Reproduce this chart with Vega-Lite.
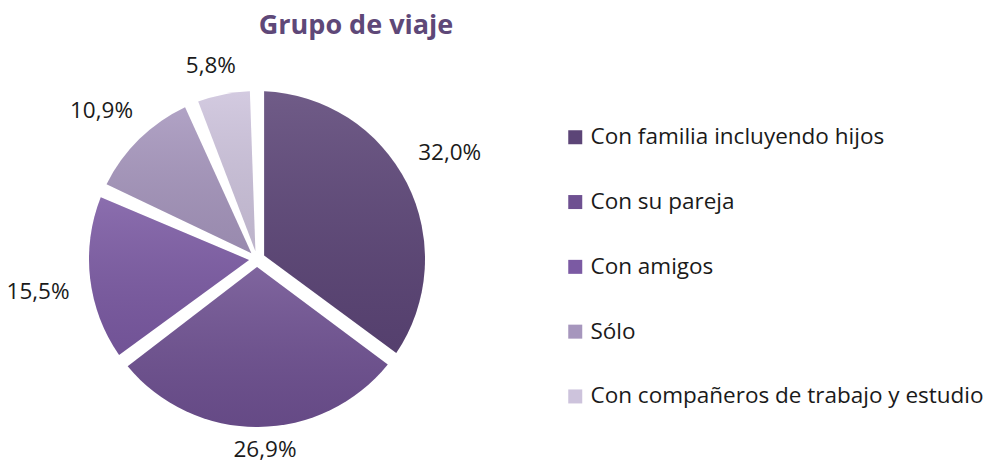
{
  "$schema": "https://vega.github.io/schema/vega-lite/v6.json",
  "width": 420,
  "height": 420,
  "autosize": {"type": "none"},
  "padding": {"left": 47, "top": 49, "right": 521, "bottom": -3},
  "background": "white",
  "title": {
    "text": "Grupo de viaje",
    "anchor": "middle",
    "dx": 99,
    "fontSize": 27,
    "font": "Open Sans",
    "fontWeight": "bold",
    "color": "#5e4878",
    "offset": 9
  },
  "data": {
    "values": [
      {"grupo": "Con familia incluyendo hijos", "pct": 0.320},
      {"grupo": "Con su pareja", "pct": 0.269},
      {"grupo": "Con amigos", "pct": 0.155},
      {"grupo": "Sólo", "pct": 0.109},
      {"grupo": "Con compañeros de trabajo y estudio", "pct": 0.058}
    ]
  },
  "encoding": {
    "theta": {"field": "pct", "type": "quantitative", "stack": true},
    "order": {"field": "pct", "type": "quantitative", "sort": "descending"}
  },
  "layer": [
    {
      "mark": {"type": "arc", "radius": 168, "innerRadius": 8, "padAngle": 0.085},
      "encoding": {
        "color": {
          "field": "grupo",
          "type": "nominal",
          "scale": {
            "domain": ["Con familia incluyendo hijos", "Con su pareja", "Con amigos", "Sólo", "Con compañeros de trabajo y estudio"],
            "range": ["#5c4577", "#6e5091", "#7b5aa3", "#a696bd", "#cdc3dc"]
          },
          "legend": {
            "title": null,
            "orient": "none",
            "legendX": 517,
            "legendY": 77,
            "symbolType": "square",
            "symbolSize": 196,
            "symbolStrokeWidth": 0,
            "labelFont": "Open Sans",
            "labelFontSize": 22.5,
            "labelColor": "#1a1a1a",
            "rowPadding": 41.8,
            "labelOffset": 4,
            "padding": 0,
            "labelLimit": 600
          }
        }
      }
    },
    {
      "mark": {
        "type": "arc",
        "radius": 168,
        "innerRadius": 8,
        "padAngle": 0.085,
        "fill": {
          "gradient": "linear",
          "x1": 0, "y1": 0, "x2": 0, "y2": 1,
          "stops": [
            {"offset": 0, "color": "rgba(255,255,255,0.12)"},
            {"offset": 1, "color": "rgba(0,0,0,0.08)"}
          ]
        }
      }
    },
    {
      "mark": {
        "type": "text",
        "thetaOffset": -0.035,
        "radius": {"expr": "185 + 36*abs(sin(scale('theta', 0.5*datum.pct_start + 0.5*datum.pct_end))) + 6*abs(cos(scale('theta', 0.5*datum.pct_start + 0.5*datum.pct_end)))"},
        "font": "Open Sans",
        "fontSize": 22.5,
        "color": "#1a1a1a",
        "align": "center",
        "baseline": "middle"
      },
      "encoding": {
        "text": {"field": "pct", "type": "quantitative", "format": ".1%"}
      }
    }
  ],
  "config": {
    "view": {"stroke": null},
    "locale": {"number": {"decimal": ",", "thousands": ".", "grouping": [3], "currency": ["", "€"]}}
  }
}
